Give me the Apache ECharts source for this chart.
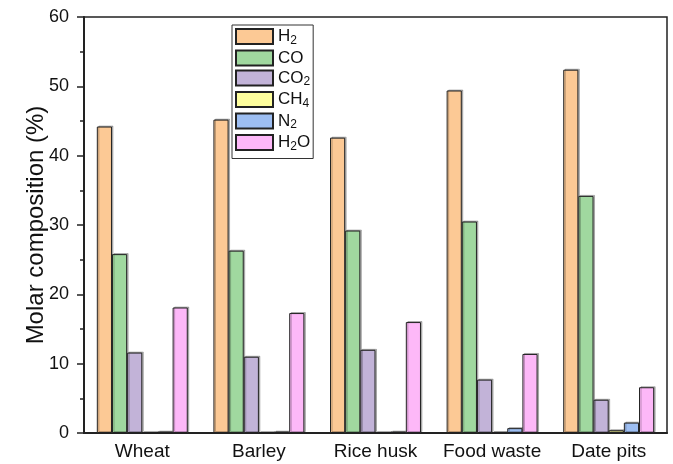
<!DOCTYPE html>
<html>
<head>
<meta charset="utf-8">
<script src="https://cdn.jsdelivr.net/npm/echarts@6/dist/echarts.min.js"></script>
<style>
  html, body { margin: 0; padding: 0; background: #fff; }
  #chart { width: 673px; height: 464px; }
</style>
</head>
<body>
<div id="chart"></div>
<script>
// Feedstocks along the x axis
const categories = ['Wheat', 'Barley', 'Rice husk', 'Food waste', 'Date pits'];

// Syngas molar composition (%) per feedstock
const gasNames = ['H2', 'CO', 'CO2', 'CH4', 'N2', 'H2O'];
const h2  = [44.2, 45.2, 42.6, 49.4, 52.4];
const co  = [25.8, 26.3, 29.2, 30.5, 34.2];
const co2 = [11.6, 11.0, 12.0, 7.7, 4.8];
const ch4 = [0.05, 0.05, 0.05, 0.1, 0.4];
const n2  = [0.2, 0.2, 0.2, 0.7, 1.5];
const h2o = [18.1, 17.3, 16.0, 11.4, 6.6];

const yTicks = [0, 10, 20, 30, 40, 50, 60];

const seriesValues = [h2, co, co2, ch4, n2, h2o];
const colors = ['#FCC995', '#A0D89F', '#C2B3D8', '#FFFF9E', '#9DBEF2', '#FDB8F8'];

const font = '"Liberation Sans", Arial, Helvetica, sans-serif';

const chart = echarts.init(document.getElementById('chart'), null, { renderer: 'canvas' });

chart.setOption({
  backgroundColor: '#fff',
  animation: false,
  grid: {
    left: 84, right: 6, top: 17, bottom: 31,
    show: true, borderColor: '#222', borderWidth: 1.5
  },
  legend: {
    orient: 'vertical',
    left: 232, top: 25,
    icon: 'rect',
    itemWidth: 37, itemHeight: 15, itemGap: 3,
    padding: [3, 3, 6, 3],
    borderColor: '#333', borderWidth: 1,
    backgroundColor: '#fff',
    data: gasNames,
    formatter: name => name.replace(/(\d)/g, '{s|$1}'),
    textStyle: {
      fontFamily: font, fontSize: 17, color: '#111',
      rich: {
        s: { fontFamily: font, fontSize: 12, color: '#111', padding: [8, 0, 0, 0] }
      }
    }
  },
  xAxis: [
    {
      type: 'category',
      data: categories,
      axisLine: { lineStyle: { color: '#222', width: 2 } },
      axisTick: { alignWithLabel: true, length: 7, lineStyle: { color: '#222', width: 1.5 } },
      axisLabel: { interval: 0, fontFamily: font, fontSize: 19, color: '#111', margin: 9 }
    },
    {
      type: 'category',
      data: categories,
      position: 'bottom',
      axisLine: { show: false },
      axisTick: { interval: 0, length: 4, lineStyle: { color: '#222', width: 1.5 } },
      axisLabel: { show: false }
    }
  ],
  yAxis: {
    type: 'value',
    min: yTicks[0], max: yTicks[yTicks.length - 1], interval: 10,
    name: 'Molar composition (%)',
    nameLocation: 'middle',
    nameGap: 36,
    nameMoveOverlap: false,
    nameTextStyle: { fontFamily: font, fontSize: 24, color: '#111' },
    axisLine: { show: true, lineStyle: { color: '#222', width: 2 } },
    axisTick: { show: true, length: 7, lineStyle: { color: '#222', width: 1.5 } },
    minorTick: { show: true, splitNumber: 2, length: 4, lineStyle: { color: '#222', width: 1.5 } },
    splitLine: { show: false },
    axisLabel: { fontFamily: font, fontSize: 18, color: '#111', margin: 15 }
  },
  series: gasNames.map((name, i) => ({
    name,
    type: 'bar',
    xAxisIndex: 0,
    data: seriesValues[i],
    barGap: '0%',
    barCategoryGap: '22%',
    itemStyle: {
      color: colors[i],
      borderColor: '#222',
      borderWidth: 1,
      shadowColor: 'rgba(0,0,0,0.25)',
      shadowOffsetX: 1.5,
      shadowOffsetY: -1
    }
  }))
});
</script>
</body>
</html>
